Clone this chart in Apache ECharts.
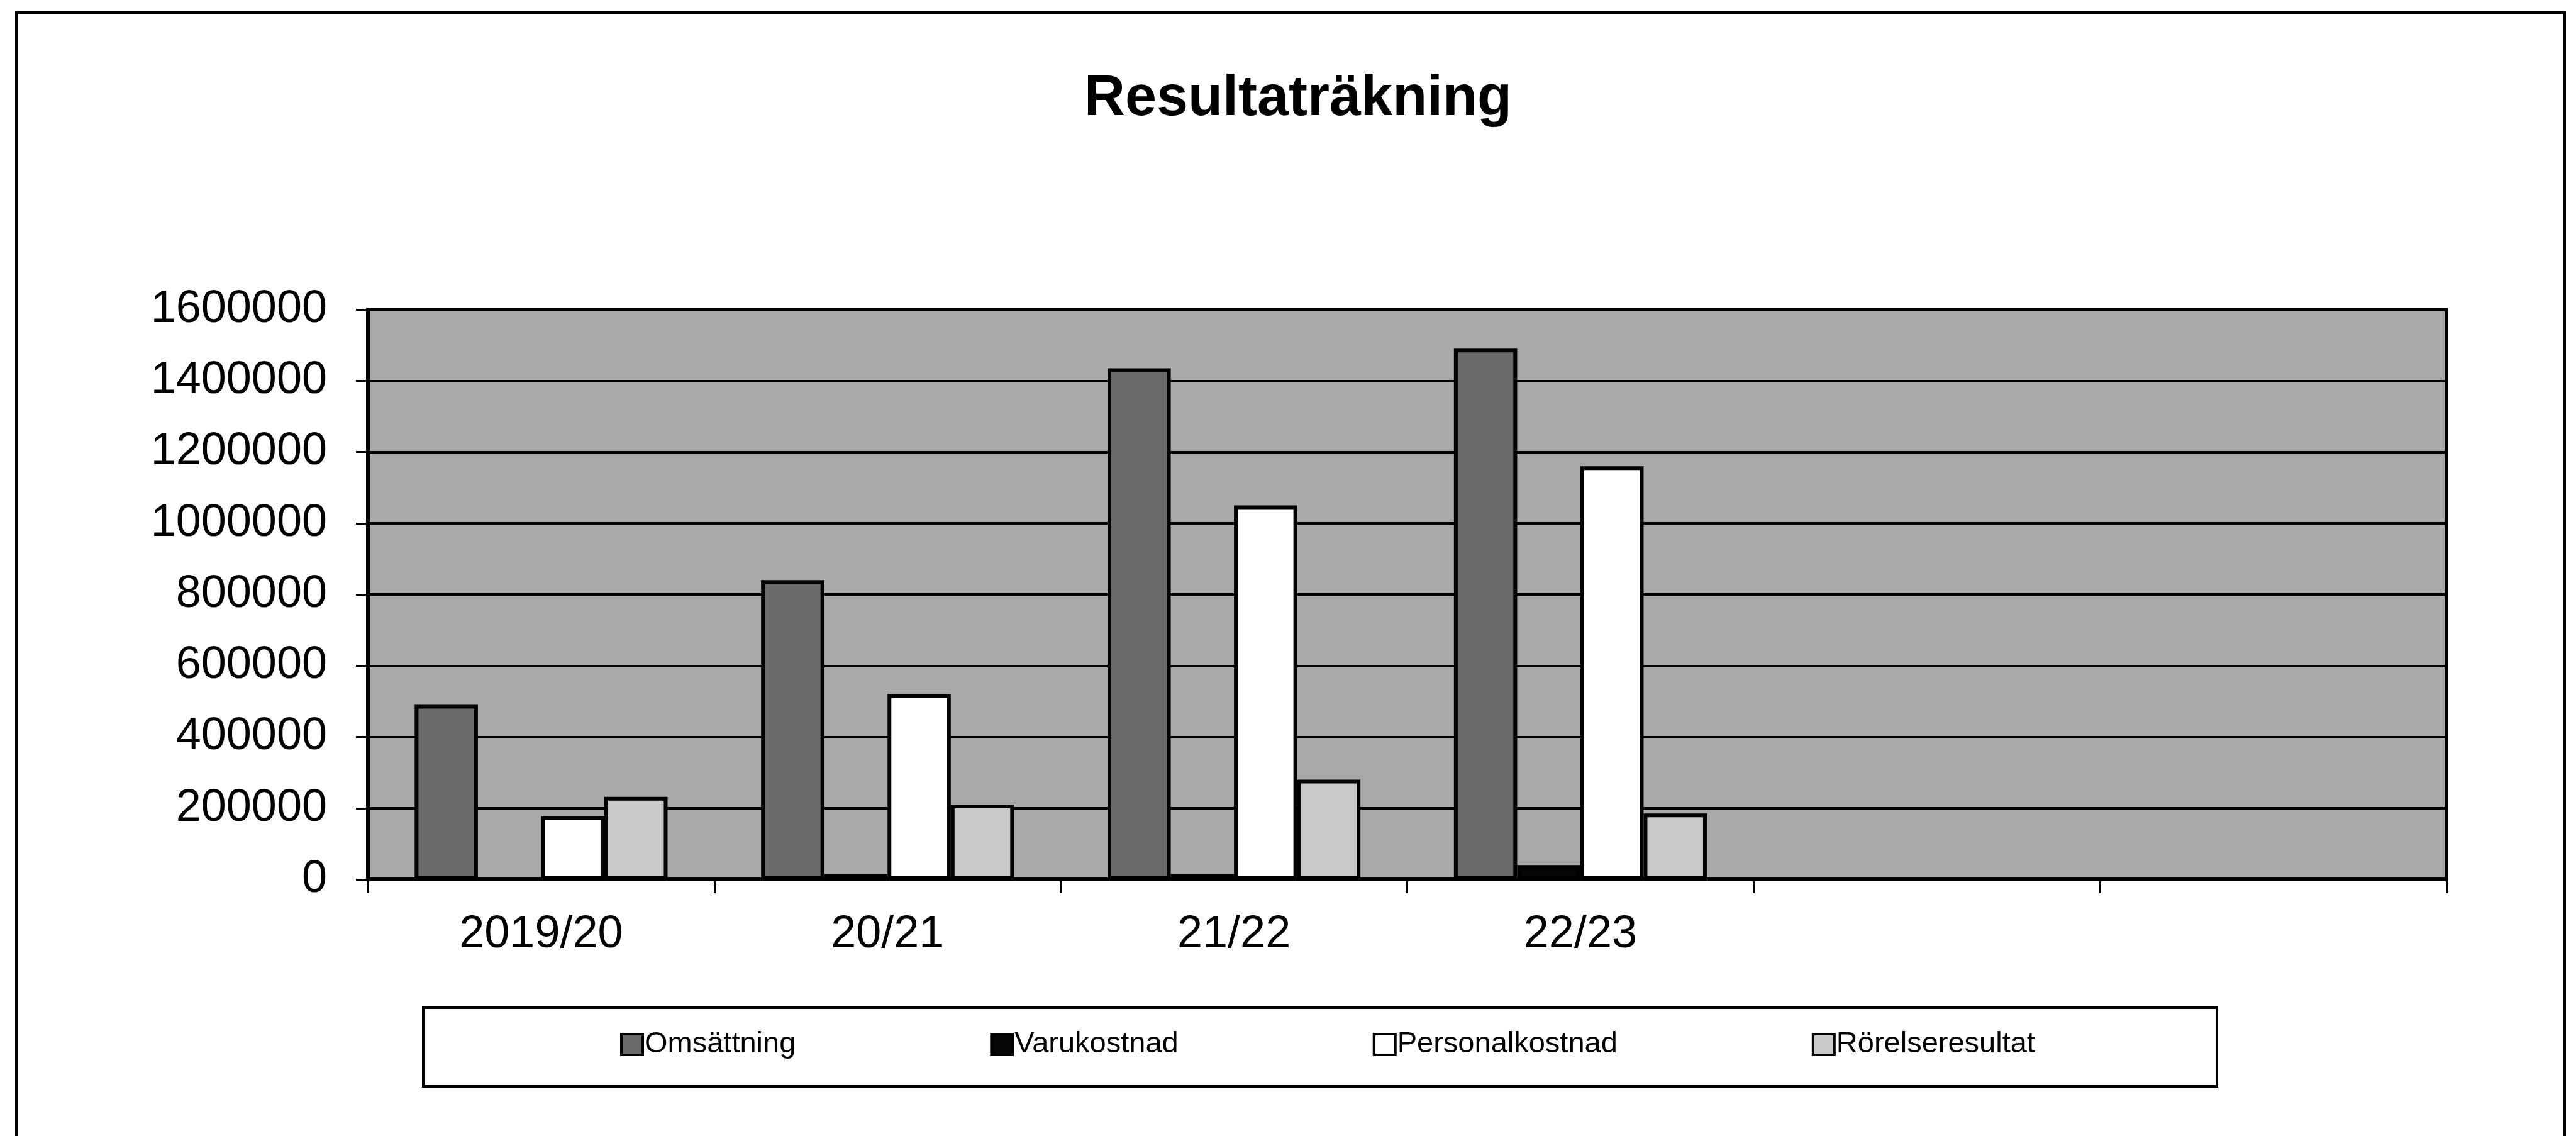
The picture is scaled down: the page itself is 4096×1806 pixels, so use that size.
<!DOCTYPE html>
<html>
<head>
<meta charset="utf-8">
<script src="https://cdn.jsdelivr.net/npm/echarts@6/dist/echarts.min.js"></script>
<style>
  html, body { margin: 0; padding: 0; background: #ffffff; }
  #chart { width: 4096px; height: 1806px; }
</style>
</head>
<body>
<div id="chart"></div>
<script>
// ---- data ----
const titleText = 'Resultaträkning';
const categories = ['2019/20', '20/21', '21/22', '22/23', '', ''];
const seriesNames = ['Omsättning', 'Varukostnad', 'Personalkostnad', 'Rörelseresultat'];
const omsattning      = [490000, 840000, 1435000, 1490000, null, null];
const varukostnad     = [0, 15000, 15000, 40000, null, null];
const personalkostnad = [177000, 520000, 1050000, 1160000, null, null];
const rorelseresultat = [232000, 210000, 280000, 185000, null, null];
const yMin = 0, yMax = 1600000, yStep = 200000;

// ---- styling ----
const FONT = '"Liberation Sans", Arial, sans-serif';
const seriesColors = ['#6a6a6a', '#050505', '#ffffff', '#c9c9c9'];
const seriesData = [omsattning, varukostnad, personalkostnad, rorelseresultat];

const chart = echarts.init(document.getElementById('chart'), null, { renderer: 'canvas' });

const option = {
  backgroundColor: '#ffffff',
  animation: false,
  title: {
    text: titleText,
    left: 2059,
    top: 108,
    textAlign: 'center',
    textStyle: { fontFamily: FONT, fontSize: 90, fontWeight: 'bold', color: '#000' }
  },
  grid: {
    left: 585, right: 206, top: 492, bottom: 408,
    show: true,
    backgroundColor: '#a9a9a9',
    borderColor: '#000',
    borderWidth: 5
  },
  legend: {
    data: seriesNames,
    orient: 'horizontal',
    left: 986,
    top: 1637,
    padding: 0,
    itemGap: 309,
    itemWidth: 34,
    itemHeight: 33,
    icon: 'rect',
    itemStyle: { borderColor: '#000', borderWidth: 4 },
    textStyle: { fontFamily: FONT, fontSize: 47, color: '#000', padding: [0, 0, 0, -2] }
  },
  xAxis: {
    type: 'category',
    data: categories,
    boundaryGap: true,
    axisLine: { show: true, lineStyle: { color: '#000', width: 6 } },
    axisTick: { show: true, inside: false, length: 22, alignWithLabel: false, lineStyle: { color: '#000', width: 3 } },
    axisLabel: { fontFamily: FONT, fontSize: 72, color: '#000', margin: 52, interval: 0 },
    splitLine: { show: false }
  },
  yAxis: {
    type: 'value',
    min: yMin, max: yMax, interval: yStep,
    axisLine: { show: true, lineStyle: { color: '#000', width: 6 } },
    axisTick: { show: true, inside: false, length: 19, lineStyle: { color: '#000', width: 3 } },
    axisLabel: { fontFamily: FONT, fontSize: 72, color: '#000', margin: 65, formatter: v => String(v) },
    splitLine: { show: true, lineStyle: { color: '#000', width: 4 } }
  },
  series: seriesNames.map((name, i) => ({
    name: name,
    type: 'bar',
    data: seriesData[i],
    barGap: '0%',
    barCategoryGap: '27%',
    itemStyle: { color: seriesColors[i], borderColor: '#000', borderWidth: 6 },
    emphasis: { disabled: true }
  })),
  graphic: [
    {
      type: 'polyline',
      shape: { points: [[26, 1806], [26, 20], [4078, 20], [4078, 1806]] },
      style: { stroke: '#000', lineWidth: 4, fill: null },
      silent: true
    },
    {
      type: 'rect',
      shape: { x: 673, y: 1602, width: 2852, height: 125 },
      style: { stroke: '#000', lineWidth: 4, fill: null },
      silent: true
    }
  ]
};

chart.setOption(option);
</script>
</body>
</html>
